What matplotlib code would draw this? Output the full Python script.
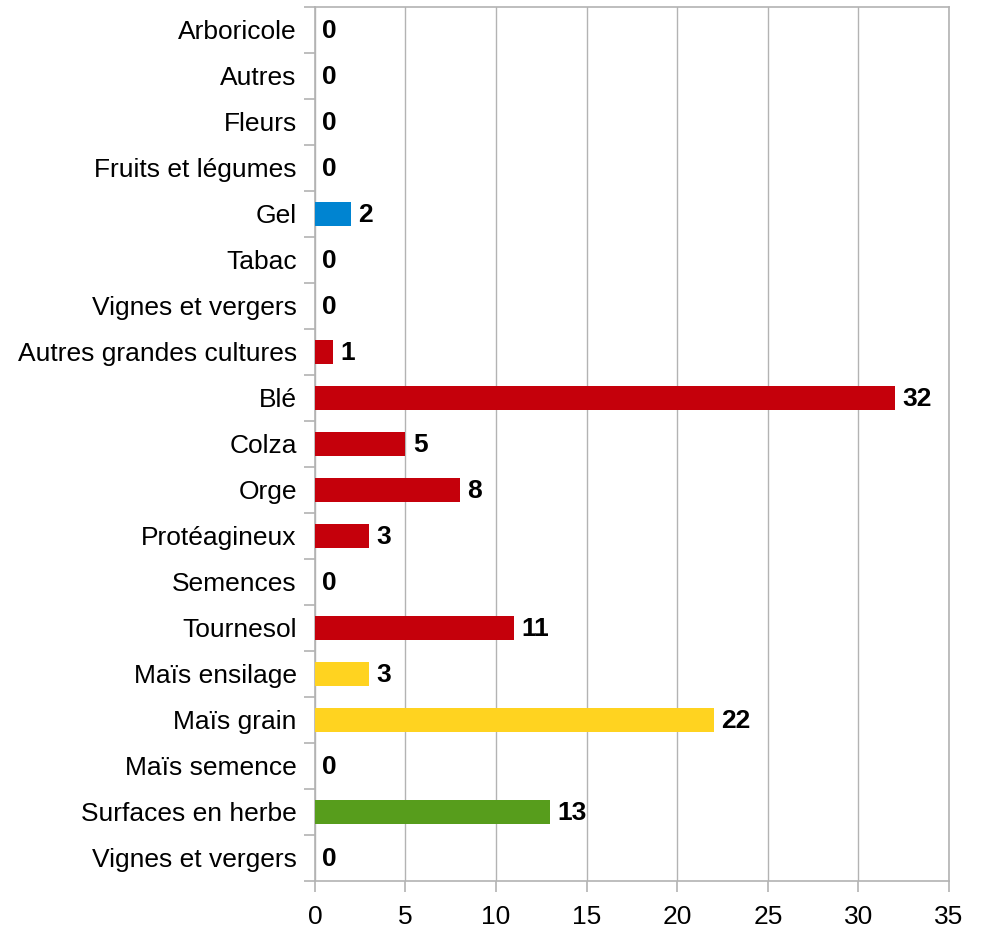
import matplotlib.pyplot as plt
import numpy as np

plt.rcParams['font.family'] = ['Liberation Sans', 'DejaVu Sans']

categories = ["Arboricole", "Autres", "Fleurs", "Fruits et légumes", "Gel", "Tabac",
              "Vignes et vergers", "Autres grandes cultures", "Blé", "Colza", "Orge",
              "Protéagineux", "Semences", "Tournesol", "Maïs ensilage", "Maïs grain",
              "Maïs semence", "Surfaces en herbe", "Vignes et vergers"]
values = [0, 0, 0, 0, 2, 0, 0, 1, 32, 5, 8, 3, 0, 11, 3, 22, 0, 13, 0]
groups = ["blue"] * 7 + ["red"] * 7 + ["yellow"] * 3 + ["green"] * 2
palette = {"blue": "#0084d1", "red": "#c5000b", "yellow": "#ffd320", "green": "#579d1c"}

fig = plt.figure(figsize=(9.84, 9.3), dpi=100)
ax = fig.add_axes([0.320, 0.0527, 0.6445, 0.9398])

y = np.arange(len(categories))
colors = [palette[g] for g in groups]
ax.barh(y, values, height=0.52, color=colors, zorder=3)

for yi, v in zip(y, values):
    ax.text(v + 0.4, yi + 0.03, str(v), va="center", ha="left", fontsize=19,
            fontweight="bold", zorder=4)

ax.set_ylim(len(categories) - 0.5, -0.5)
ax.set_xlim(0, 35)
ax.set_xticks(np.arange(0, 36, 5))
ax.set_yticks(y)
ax.set_yticklabels(categories, fontsize=19)
ax.set_yticks(np.arange(-0.5, len(categories), 1), minor=True)
ax.tick_params(axis="y", which="major", length=0, pad=13)
ax.tick_params(axis="y", which="minor", length=8, color="#b3b3b3", width=1.2)
ax.tick_params(axis="x", length=8, color="#b3b3b3", width=1.2, labelsize=19, pad=9)

ax.grid(axis="x", color="#b3b3b3", linewidth=1.0, zorder=0)
for side in ["left", "bottom", "top", "right"]:
    ax.spines[side].set_color("#b3b3b3")
    ax.spines[side].set_linewidth(1.2)

fig.savefig("out.png", dpi=100)
